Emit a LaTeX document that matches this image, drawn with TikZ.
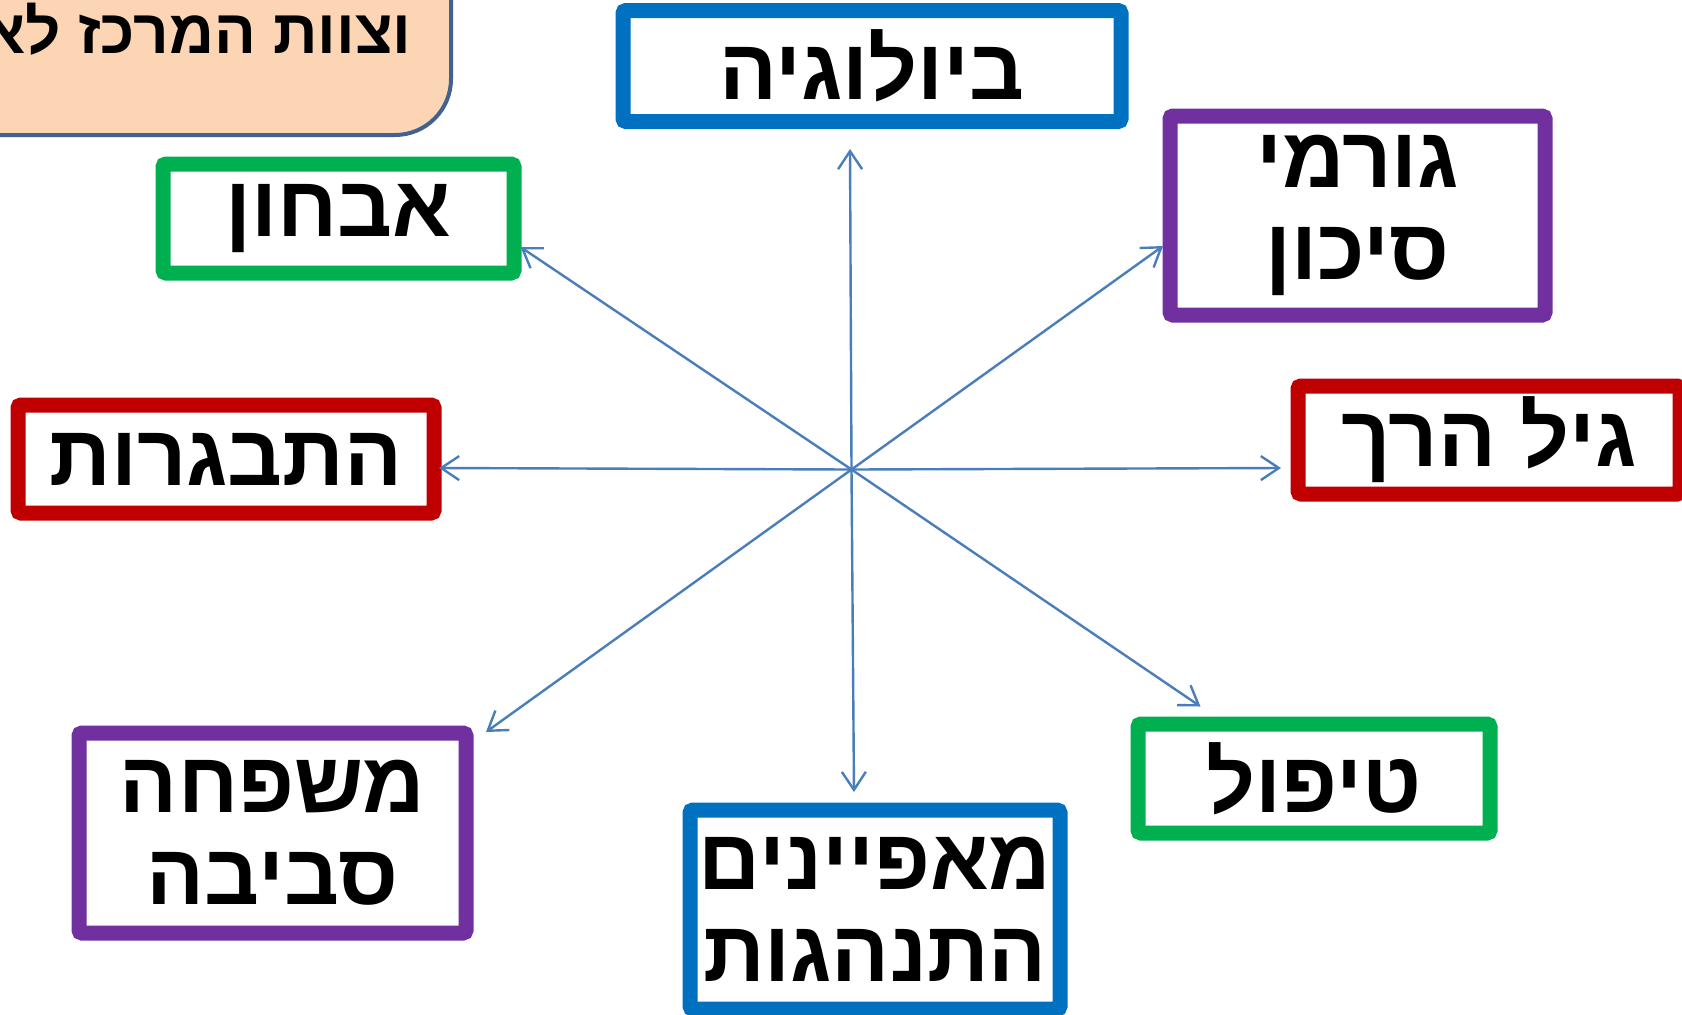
\documentclass[tikz,border=0pt]{standalone}
\usepackage{fontspec}
\usetikzlibrary{arrows.meta}
\TeXXeTstate=1
\newfontfamily\hebfont[Script=Hebrew]{Liberation Sans}
\definecolor{cblue}{HTML}{0070C0}
\definecolor{cpurple}{HTML}{7030A0}
\definecolor{cred}{HTML}{C00000}
\definecolor{cgreen}{HTML}{00B050}
\definecolor{carrow}{HTML}{4A7EBB}
\definecolor{cpeach}{HTML}{FCD5B5}
\definecolor{cpeachline}{HTML}{41628F}
\tikzset{
  boxnode/.style={draw, line width=7.5pt, rounded corners=1.5pt, fill=white,
    align=center, inner sep=0pt, font=\hebfont\bfseries\fontsize{43}{42}\selectfont},
  arr/.style={draw=carrow, line width=1.2pt, -{Straight Barb[length=9pt,width=12pt,line width=1.2pt]}},
}
\begin{document}
\begin{tikzpicture}[x=0.5pt,y=-0.5pt]
\useasboundingbox (0,0) rectangle (1682,1014);
\clip (0,0) rectangle (1682,1014);
% title box (partly outside)
\draw[fill=cpeach, draw=cpeachline, line width=2pt, rounded corners=28pt] (-200,-200) rectangle (451,135);
\node[anchor=base east, inner sep=0pt, font=\hebfont\bfseries\fontsize{31}{31}\selectfont] (title) at (412,53) {\beginR וצוות המרכז לא\endR};
% boxes
\node[boxnode, draw=cblue, minimum width=249pt, minimum height=55.5pt] (bio) at (872,66) {\beginR ביולוגיה\endR};
\node[boxnode, draw=cpurple, minimum width=187.5pt, minimum height=99.5pt] (risk) at (1357.5,215.5) {\beginR גורמי\endR\\[4pt]\beginR סיכון\endR};
\node[boxnode, draw=cred, minimum width=191pt, minimum height=54pt] (age) at (1489,440) {\beginR גיל הרך\endR};
\node[boxnode, draw=cgreen, minimum width=175.5pt, minimum height=54.5pt] (diag) at (338.5,218.5) {\beginR אבחון\endR};
\node[boxnode, draw=cred, minimum width=208pt, minimum height=54pt] (adol) at (226,459) {\beginR התבגרות\endR};
\node[boxnode, draw=cpurple, minimum width=193.5pt, minimum height=100pt] (fam) at (272.5,833) {\beginR משפחה\endR\\[4pt]\beginR סביבה\endR};
\node[boxnode, draw=cblue, minimum width=185pt, minimum height=99.5pt] (behav) at (875,909.5) {\beginR מאפיינים\endR\\[4pt]\beginR התנהגות\endR};
\node[boxnode, draw=cgreen, minimum width=176pt, minimum height=54.5pt] (treat) at (1314,778.5) {\beginR טיפול\endR};
% arrow geometry
\coordinate (c) at (851.5,469.5);
\coordinate (eBio) at (850,149);
\coordinate (eRisk) at (1163,246);
\coordinate (eAge) at (1281,468);
\coordinate (eDiag) at (520.5,247);
\coordinate (eAdol) at (439,468);
\coordinate (eFam) at (486,732);
\coordinate (eBehav) at (854,792);
\coordinate (eTreat) at (1200.5,706.5);
\foreach \e in {eBio,eRisk,eAge,eDiag,eAdol,eFam,eBehav,eTreat}
  \draw[arr] (c) -- (\e);
\end{tikzpicture}
\end{document}
